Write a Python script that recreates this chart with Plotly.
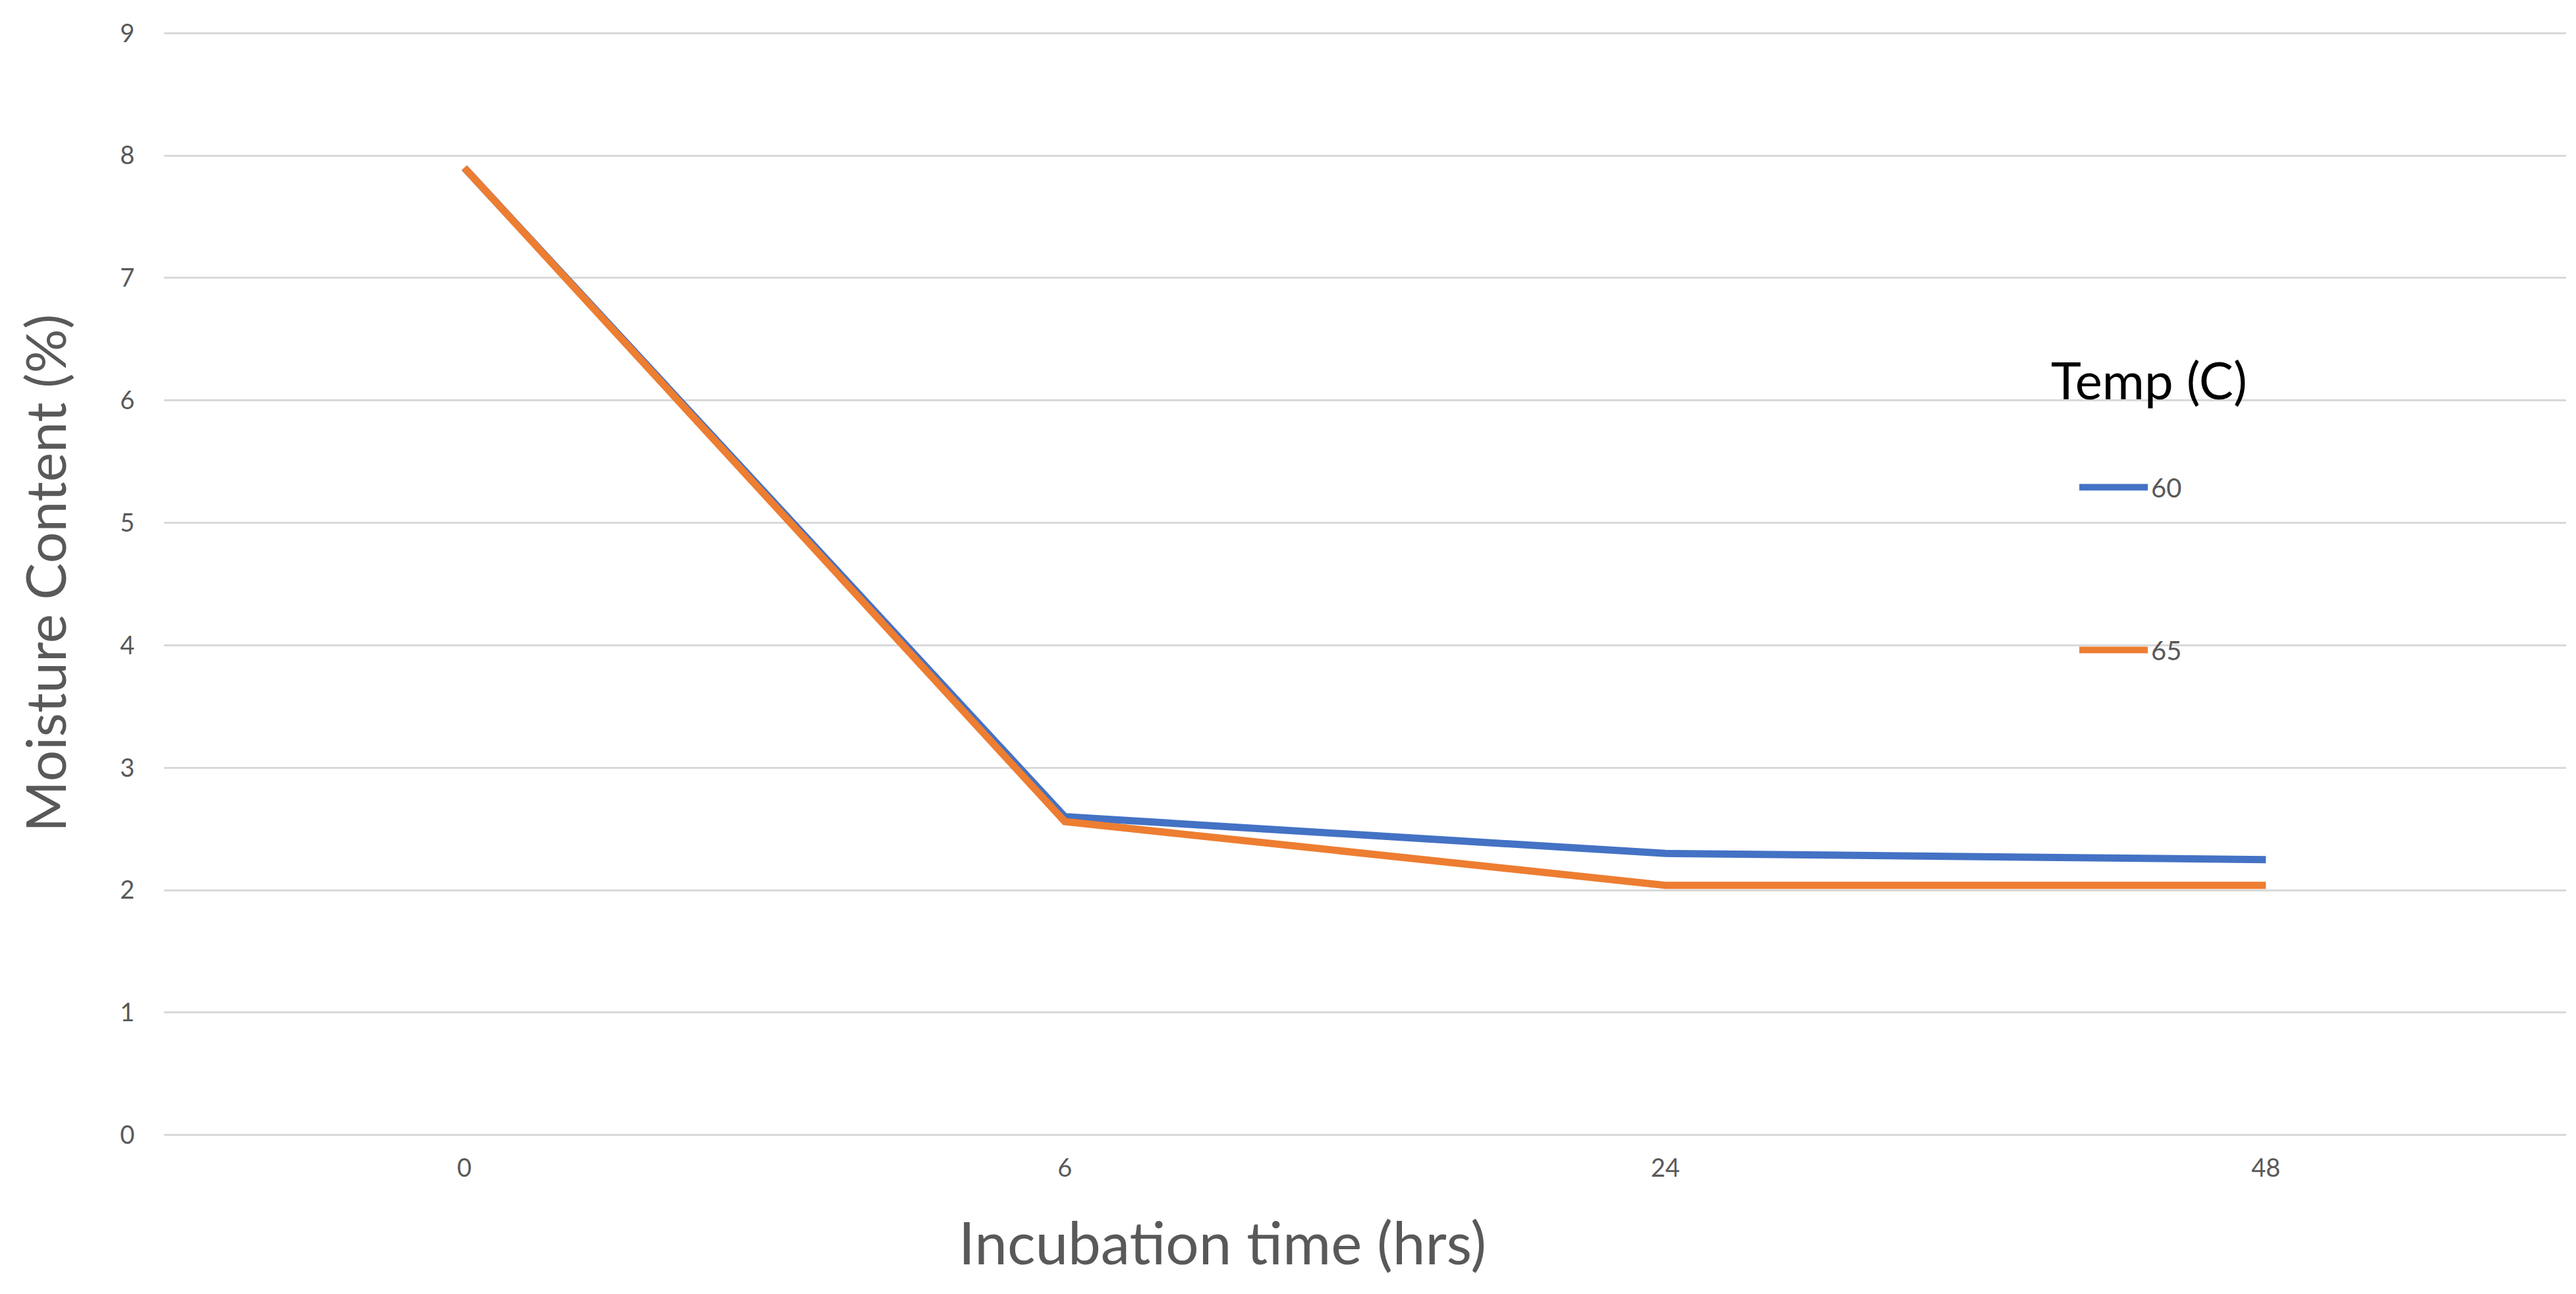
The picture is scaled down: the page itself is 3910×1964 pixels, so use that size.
import plotly.graph_objects as go

# Data
incubation_time = ["0", "6", "24", "48"]
temp_labels = ["60", "65"]
moisture_60 = [7.9, 2.6, 2.3, 2.25]
moisture_65 = [7.9, 2.56, 2.04, 2.04]
y_ticks = [0, 1, 2, 3, 4, 5, 6, 7, 8, 9]

BLUE = "#4472C4"
ORANGE = "#ED7D31"
GRAY = "#595959"
FONT = "Lato"

fig = go.Figure()
fig.add_trace(go.Scatter(x=incubation_time, y=moisture_60, mode="lines",
                         name=temp_labels[0], legendgroup="g60",
                         line=dict(color=BLUE, width=11)))
fig.add_trace(go.Scatter(x=incubation_time, y=moisture_65, mode="lines",
                         name=temp_labels[1], legendgroup="g65",
                         line=dict(color=ORANGE, width=11)))

fig.update_layout(
    width=3910, height=1964,
    margin=dict(l=249, r=15, t=48, b=239, pad=0),
    paper_bgcolor="white", plot_bgcolor="white",
    font=dict(family=FONT, color=GRAY, size=38),
    showlegend=True,
    legend=dict(
        x=0.785, y=0.728, xanchor="left", yanchor="top",
        bgcolor="rgba(0,0,0,0)",
        title=dict(text="Temp (C)<br> ", font=dict(family=FONT, size=78, color="black")),
        font=dict(family=FONT, size=40, color=GRAY),
        traceorder="grouped", tracegroupgap=192,
        itemwidth=104, indentation=40,
    ),
    xaxis=dict(
        type="category", range=[-0.5, 3.5],
        showgrid=False, showline=False, zeroline=False,
        ticks="outside", ticklen=14, tickcolor="rgba(0,0,0,0)",
        tickfont=dict(family=FONT, size=38, color=GRAY),
    ),
    yaxis=dict(
        range=[-0.012, 9.012], tickvals=y_ticks,
        showgrid=True, gridcolor="#D9D9D9", gridwidth=3,
        zeroline=False, showline=False,
        ticks="outside", ticklen=36, tickcolor="rgba(0,0,0,0)",
        tickfont=dict(family=FONT, size=38, color=GRAY),
    ),
    annotations=[
        dict(text="Incubation time (hrs)", xref="paper", yref="paper",
             x=0.4405, y=-0.095, xanchor="center", yanchor="middle",
             showarrow=False, font=dict(family=FONT, size=89, color=GRAY)),
        dict(text="Moisture Content (%)", xref="paper", yref="paper",
             x=-0.0496, y=0.51, xanchor="center", yanchor="middle",
             textangle=-90, showarrow=False,
             font=dict(family=FONT, size=84, color=GRAY)),
    ],
)

fig.write_html("out.html", config={"displayModeBar": False},
               post_script="document.body.style.margin='0';document.body.style.overflow='hidden';")
